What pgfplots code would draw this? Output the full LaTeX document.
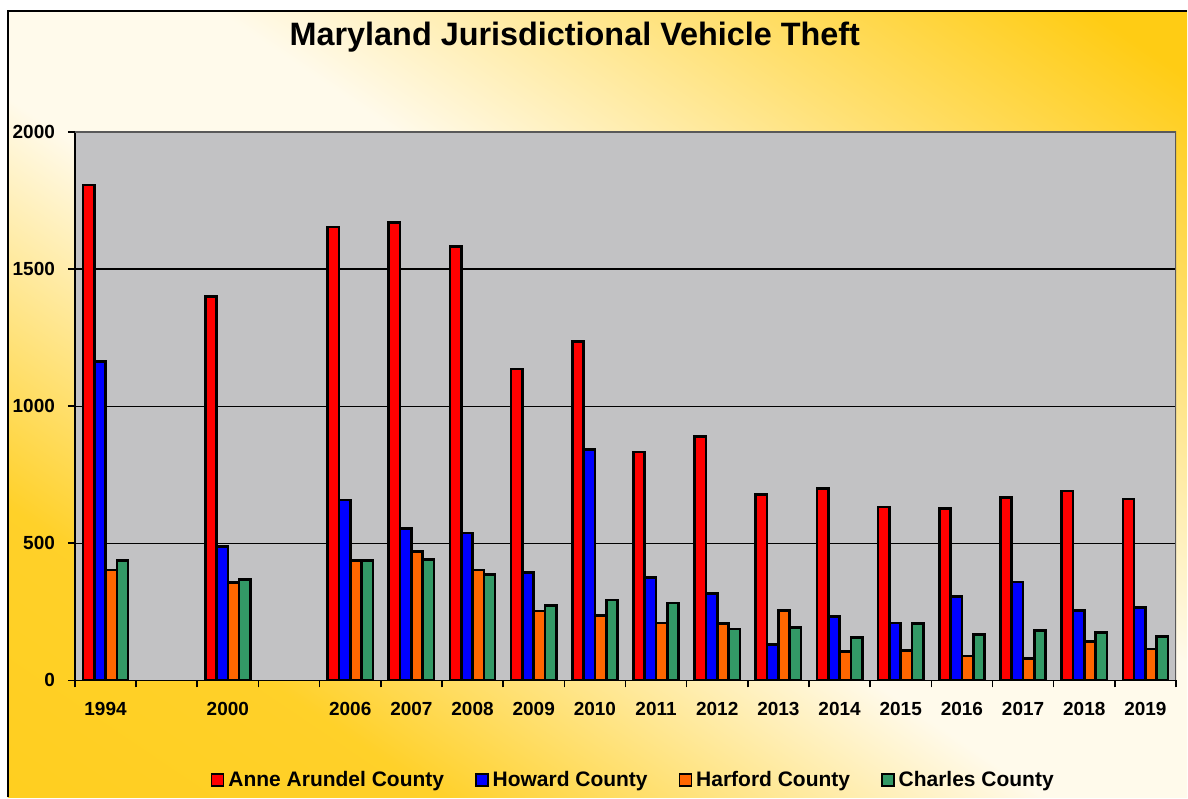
\documentclass[border=0pt]{standalone}
\usepackage{fontspec}
\setmainfont{Liberation Sans}
\usepackage{pgfplots}
\pgfplotsset{compat=1.18}
\definecolor{aacol}{RGB}{255,0,0}
\definecolor{howcol}{RGB}{0,0,255}
\definecolor{harcol}{RGB}{255,102,0}
\definecolor{chacol}{RGB}{51,153,102}
\definecolor{plotgray}{RGB}{194,194,196}
\definecolor{goldbg}{RGB}{255,204,20}
\definecolor{creambg}{RGB}{255,250,235}
\pgfdeclarehorizontalshading{bgshade}{100bp}{color(0bp)=(goldbg); color(28bp)=(goldbg!90!creambg); color(46bp)=(creambg); color(56bp)=(creambg); color(70bp)=(goldbg!55!creambg); color(82bp)=(goldbg); color(100bp)=(goldbg)}
\begin{document}
\begin{tikzpicture}
\fill[white] (0,0) rectangle (594pt,399pt);
\shade[shading=bgshade, shading angle=56] (4pt,0) rectangle (594pt,393.5pt);
\draw[line width=1pt] (4pt,0) -- (4pt,393.5pt) -- (594pt,393.5pt);
\begin{axis}[
  at={(37.5pt,58.5pt)}, anchor=south west,
  scale only axis, width=551pt, height=274.5pt,
  xmin=-0.5, xmax=17.5, ymin=0, ymax=2000,
  axis background/.style={fill=plotgray},
  axis lines=left, axis line style={-, black, line width=0.8pt},
  xtick={0,2,4,5,6,7,8,9,10,11,12,13,14,15,16,17},
  xticklabels={1994,2000,2006,2007,2008,2009,2010,2011,2012,2013,2014,2015,2016,2017,2018,2019},
  major x tick style={draw=none},
  minor xtick={-0.5,0.5,...,17.5},
  minor tick length=3.5pt,
  major tick length=3.5pt,
  tick align=outside,
  tick style={black, line width=0.8pt},
  ytick={0,500,1000,1500,2000},
  /pgf/number format/.cd, 1000 sep={}, assume math mode=true, /pgfplots/.cd,
  ymajorgrids, grid style={black, line width=0.6pt},
  ticklabel style={font=\bfseries\fontsize{9.5}{11}\selectfont},
  xticklabel style={yshift=-4pt},
  yticklabel style={xshift=-3pt},
  ybar=0pt, bar width=0.185,
  title={Maryland Jurisdictional Vehicle Theft},
  title style={at={(0.454,1.15)}, anchor=center, font=\bfseries\fontsize{16.2}{20}\selectfont},
  legend style={at={(0.508,-0.182)}, anchor=center, draw=none, fill=none,
    legend columns=4, font=\bfseries\fontsize{10.5}{12}\selectfont,
    /tikz/every even column/.append style={column sep=13.5pt}},
  legend image code/.code={\draw[#1, draw=black, line width=0.8pt] (0pt,-3pt) rectangle (6pt,3pt);},
  every axis plot/.append style={draw=black, line width=1.3pt},
]
\addplot[fill=aacol, bar shift=-0.2775] coordinates {(0,1807) (2,1400) (4,1653) (5,1670) (6,1583) (7,1136) (8,1236) (9,833) (10,889) (11,677) (12,700) (13,633) (14,626) (15,668) (16,690) (17,662)};
\addplot[fill=howcol, bar shift=-0.0925] coordinates {(0,1162) (2,488) (4,658) (5,554) (6,537) (7,394) (8,842) (9,375) (10,316) (11,132) (12,234) (13,210) (14,307) (15,359) (16,256) (17,266)};
\addplot[fill=harcol, bar shift=0.0925] coordinates {(0,402) (2,357) (4,438) (5,469) (6,403) (7,253) (8,236) (9,209) (10,208) (11,255) (12,106) (13,109) (14,89) (15,80) (16,141) (17,115)};
\addplot[fill=chacol, bar shift=0.2775] coordinates {(0,437) (2,367) (4,437) (5,440) (6,387) (7,273) (8,293) (9,283) (10,187) (11,194) (12,157) (13,207) (14,168) (15,183) (16,174) (17,161)};
\legend{Anne Arundel County, Howard County, Harford County, Charles County}
\draw[gray!70!black, line width=0.8pt] (rel axis cs:0,1) -- (rel axis cs:1,1) -- (rel axis cs:1,0);
\end{axis}
\end{tikzpicture}
\end{document}
